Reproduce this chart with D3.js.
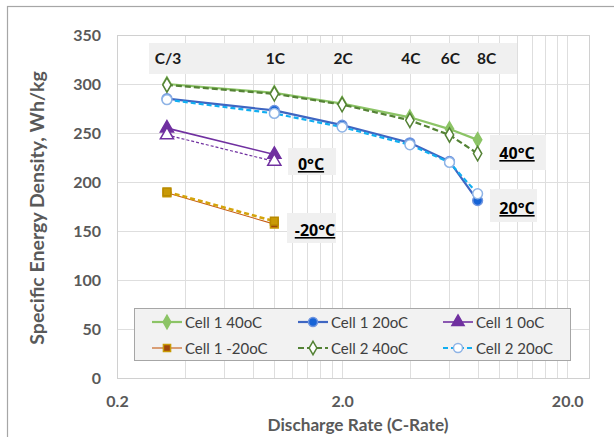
<!DOCTYPE html>
<html>
<head>
<meta charset="utf-8">
<script src="https://cdn.jsdelivr.net/npm/d3@7/dist/d3.min.js"></script>
<style>
  html, body { margin: 0; padding: 0; background: #fff; }
  svg { display: block; font-family: Lato, "Open Sans", sans-serif; }
</style>
</head>
<body>
<svg id="chart" width="614" height="437"></svg>
<script>
// Discharge rates (C-rate) and rate labels shown in the top band
const rates = [1 / 3, 1, 2, 4, 6, 8];
const lowRates = [1 / 3, 1];
const rateLabels = ["C/3", "1C", "2C", "4C", "6C", "8C"];

// Specific energy density, Wh/kg
const cell1_40 = [300, 291, 280, 266, 254, 243];
const cell2_40 = [299, 290, 279, 263, 248, 229];
const cell1_20 = [285, 273, 258, 240, 221, 181];
const cell2_20 = [284, 270, 256, 238, 220, 188];
const cell1_0 = [255, 228];
const cell2_0 = [248, 221];
const cell1_m20 = [189, 157];
const cell2_m20 = [190, 160];

// Axis ticks
const xTicks = [0.2, 2, 20];
const yTicks = [0, 50, 100, 150, 200, 250, 300, 350];

// Temperature call-outs
const tempLabels = ["0°C", "-20°C", "40°C", "20°C"];

const series = [
  { name: "Cell 1 40oC", x: rates, y: cell1_40, color: "#8cc466", width: 2.2, dash: null, marker: "diamond", fill: "#8cc466", stroke: "#8cc466", legend: true },
  { name: "Cell 1 20oC", x: rates, y: cell1_20, color: "#3f66c2", width: 2.2, dash: null, marker: "circle", fill: "#1663d6", stroke: "#6f95e0", legend: true },
  { name: "Cell 1 0oC", x: lowRates, y: cell1_0, color: "#7030a0", width: 1.6, dash: null, marker: "triangle", fill: "#7030a0", stroke: "#7030a0", legend: true },
  { name: "Cell 1 -20oC", x: lowRates, y: cell1_m20, color: "#c55a11", width: 1.1, dash: null, marker: "square", fill: "#a0460c", stroke: "#c99a06", legend: true },
  { name: "Cell 2 40oC", x: rates, y: cell2_40, color: "#548235", width: 2.2, dash: "6,3", marker: "diamond", fill: "#ffffff", stroke: "#548235", legend: true },
  { name: "Cell 2 20oC", x: rates, y: cell2_20, color: "#12aef0", width: 2.2, dash: "5,3", marker: "circle", fill: "#ffffff", stroke: "#8fb4e6", legend: true },
  { name: "Cell 2 0oC", x: lowRates, y: cell2_0, color: "#7030a0", width: 1.2, dash: "3,2", marker: "triangle", fill: "#ffffff", stroke: "#7030a0", legend: false },
  { name: "Cell 2 -20oC", x: lowRates, y: cell2_m20, color: "#d4a40c", width: 2.6, dash: "5,3", marker: "square", fill: "#c99a06", stroke: "#b88a00", legend: false }
];

const svg = d3.select("#chart");
const plot = { left: 117, right: 589, top: 35, bottom: 378 };

const x = d3.scaleLog().domain([0.2, 25]).range([plot.left, plot.right]);
const y = d3.scaleLinear().domain([0, 350]).range([plot.bottom, plot.top]);

// Outer frame
svg.append("rect")
  .attr("x", 7.5).attr("y", 6.5).attr("width", 620).attr("height", 440)
  .attr("fill", "none").attr("stroke", "#a6a6a6").attr("stroke-width", 1.2);

// Vertical minor gridlines on the log axis
const minorX = [];
[0.2, 2, 20].forEach(d => { for (let k = 1; k <= 9; k++) { const v = d * k; if (v > 0.2 && v < 25) minorX.push(v); } });

const grid = svg.append("g").attr("stroke", "#dedede").attr("stroke-width", 1);
grid.selectAll("line.vx").data(minorX).join("line")
  .attr("x1", d => Math.round(x(d)) + 0.5).attr("x2", d => Math.round(x(d)) + 0.5)
  .attr("y1", plot.top).attr("y2", plot.bottom);
grid.selectAll("line.hy").data(yTicks).join("line")
  .attr("x1", plot.left).attr("x2", plot.right)
  .attr("y1", d => Math.round(y(d)) + 0.5).attr("y2", d => Math.round(y(d)) + 0.5);

// Plot area border
svg.append("rect")
  .attr("x", plot.left + 0.5).attr("y", plot.top + 0.5)
  .attr("width", plot.right - plot.left).attr("height", plot.bottom - plot.top)
  .attr("fill", "none").attr("stroke", "#d0d0d0");

// Axes (labels only)
const yAxis = svg.append("g").attr("transform", `translate(${plot.left - 6},0)`)
  .call(d3.axisLeft(y).tickValues(yTicks).tickSize(0).tickPadding(10).tickFormat(d3.format("d")));
const xAxis = svg.append("g").attr("transform", `translate(0,${plot.bottom})`)
  .call(d3.axisBottom(x).tickValues(xTicks).tickSize(0).tickPadding(18).tickFormat(d3.format(".1f")));
[yAxis, xAxis].forEach(a => {
  a.select(".domain").remove();
  a.selectAll("text").attr("fill", "#595959").attr("font-size", 16).attr("font-weight", "bold")
    .attr("font-family", "Lato, sans-serif");
});

// Axis titles
svg.append("text")
  .attr("transform", `translate(44,208) rotate(-90)`)
  .attr("text-anchor", "middle")
  .attr("fill", "#595959").attr("font-size", 19.5).attr("font-weight", "bold")
  .text("Specific Energy Density, Wh/kg");
svg.append("text")
  .attr("x", 358).attr("y", 431)
  .attr("text-anchor", "middle")
  .attr("fill", "#595959").attr("font-size", 17.2).attr("font-weight", "bold")
  .text("Discharge Rate (C-Rate)");

// Rate band along the top
svg.append("rect")
  .attr("x", 149).attr("y", 43).attr("width", 368).attr("height", 31)
  .attr("fill", "#f0f0f0");
svg.selectAll("text.rate").data(rates).join("text")
  .attr("class", "rate")
  .attr("x", (d, i) => x(d) + (i === rates.length - 1 ? 9 : 1))
  .attr("y", 64)
  .attr("text-anchor", "middle")
  .attr("fill", "#1a1a1a").attr("font-size", 15.5).attr("font-weight", "bold")
  .text((d, i) => rateLabels[i]);

// Marker shapes
const symbolType = { diamond: d3.symbolDiamond, circle: d3.symbolCircle, triangle: d3.symbolTriangle, square: d3.symbolSquare };
const symbolSize = { diamond: 60, circle: 75, triangle: 75, square: 60 };

function drawMarker(g, s, cx, cy, scale) {
  g.append("path")
    .attr("d", d3.symbol().type(symbolType[s.marker]).size(symbolSize[s.marker] * (scale || 1))())
    .attr("transform", `translate(${cx},${cy})`)
    .attr("fill", s.fill).attr("stroke", s.stroke).attr("stroke-width", 1.5);
}

// Series lines and markers
const line = d3.line().x(d => x(d[0])).y(d => y(d[1]));
series.forEach(s => {
  const pts = s.x.map((v, j) => [v, s.y[j]]);
  const g = svg.append("g");
  g.append("path").datum(pts)
    .attr("d", line)
    .attr("fill", "none").attr("stroke", s.color).attr("stroke-width", s.width)
    .attr("stroke-dasharray", s.dash);
  pts.forEach(p => drawMarker(g, s, x(p[0]), y(p[1])));
});

// Temperature call-outs
const callouts = [
  { text: tempLabels[0], bx: 288, by: 148, bw: 48, bh: 27, tx: 311, ty: 170 },
  { text: tempLabels[1], bx: 287, by: 213, bw: 49, bh: 30, tx: 315, ty: 236 },
  { text: tempLabels[2], bx: 490, by: 135, bw: 56, bh: 35, tx: 517, ty: 159 },
  { text: tempLabels[3], bx: 490, by: 189, bw: 47, bh: 33, tx: 517, ty: 214 }
];
callouts.forEach(c => {
  svg.append("rect").attr("x", c.bx).attr("y", c.by).attr("width", c.bw).attr("height", c.bh).attr("fill", "#f0f0f0");
  svg.append("text").attr("x", c.tx).attr("y", c.ty).attr("text-anchor", "middle")
    .attr("fill", "#000").attr("font-size", 16).attr("font-weight", "bold")
    .attr("font-family", "'Open Sans', sans-serif")
    .attr("text-decoration", "underline")
    .text(c.text);
});

// Legend
const legend = svg.append("g");
legend.append("rect")
  .attr("x", 134.5).attr("y", 308.5).attr("width", 436).attr("height", 52)
  .attr("fill", "#f2f2f2").attr("stroke", "#a6a6a6");
const legendItems = series.filter(s => s.legend);
const legendOrder = ["Cell 1 40oC", "Cell 1 20oC", "Cell 1 0oC", "Cell 1 -20oC", "Cell 2 40oC", "Cell 2 20oC"];
const colX = [152, 298, 443];
const rowY = [322, 348];
legendOrder.forEach((name, i) => {
  const s = legendItems.find(d => d.name === name);
  const lx = colX[i % 3], ly = rowY[Math.floor(i / 3)];
  legend.append("line")
    .attr("x1", lx).attr("x2", lx + 30).attr("y1", ly).attr("y2", ly)
    .attr("stroke", s.color).attr("stroke-width", s.width).attr("stroke-dasharray", s.dash);
  drawMarker(legend, s, lx + 15, ly, 0.85);
  legend.append("text")
    .attr("x", lx + 33).attr("y", ly + 5.5)
    .attr("fill", "#404040").attr("font-size", 15)
    .text(s.name);
});
</script>
</body>
</html>
